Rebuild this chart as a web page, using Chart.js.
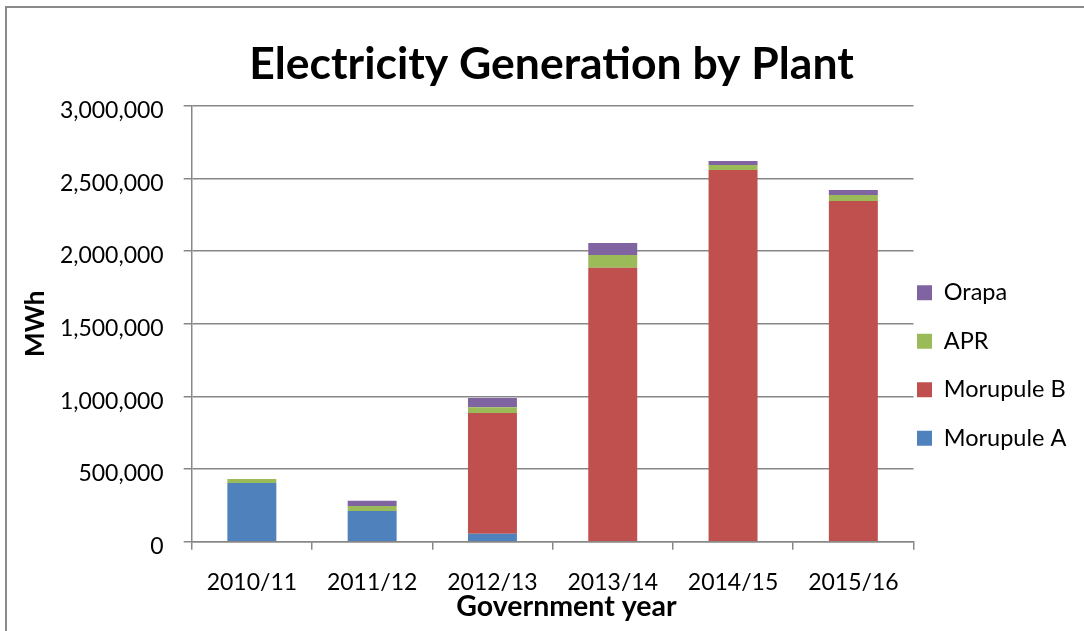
<!DOCTYPE html>
<html>
<head>
<meta charset="utf-8">
<title>Electricity Generation by Plant</title>
<script src="https://cdn.jsdelivr.net/npm/chart.js@4/dist/chart.umd.min.js"></script>
<style>
  html, body { margin: 0; padding: 0; background: #ffffff; overflow: hidden; }
  #wrap { position: relative; width: 1084px; height: 631px; }
  #frame {
    position: absolute; left: 5px; top: 6px; width: 1200px; height: 800px;
    border-left: 2px solid #8a8a8a; border-top: 2px solid #8a8a8a;
  }
  #chart { position: absolute; left: 0; top: 0; }
</style>
</head>
<body>
<div id="wrap">
  <div id="frame"></div>
  <canvas id="chart" width="1084" height="631"></canvas>
</div>
<script>
// Government years (x categories)
const categories = ['2010/11', '2011/12', '2012/13', '2013/14', '2014/15', '2015/16'];

// Generation per plant, MWh
const morupuleA = [404000, 211000, 55000, 0, 0, 0];
const morupuleB = [0, 0, 830000, 1885000, 2558000, 2344000];
const apr       = [27000, 35000, 40000, 88000, 34000, 41000];
const orapa     = [0, 35000, 64000, 82000, 28000, 35000];

// Value axis ticks
const yTicks = [0, 500000, 1000000, 1500000, 2000000, 2500000, 3000000];

const seriesNames  = ['Morupule A', 'Morupule B', 'APR', 'Orapa'];
const seriesColors = ['#4F81BD', '#C0504D', '#9BBB59', '#8064A2'];
const seriesData   = [morupuleA, morupuleB, apr, orapa];

const GRID = '#878787';
Chart.defaults.font.family = 'Lato, "Open Sans", sans-serif';
Chart.defaults.color = '#000000';

// Place the legend block beside the plot, just right of the last category
const legendPlacement = {
  id: 'legendPlacement',
  afterLayout(chart) {
    const lg = chart.legend;
    if (!lg) return;
    lg.left = 917 - lg.options.labels.padding;
    const h = lg.bottom - lg.top;
    lg.top = 256; lg.bottom = lg.top + h;
    lg.width = lg.right - lg.left;
  }
};

new Chart(document.getElementById('chart'), {
  type: 'bar',
  data: {
    labels: categories,
    datasets: seriesNames.map((name, i) => ({
      label: name,
      data: seriesData[i],
      backgroundColor: seriesColors[i],
      borderWidth: 0,
      barPercentage: 0.407,
      categoryPercentage: 1.0
    }))
  },
  options: {
    responsive: false,
    animation: false,
    devicePixelRatio: 1,
    layout: { padding: { left: 19, right: 0, top: 0, bottom: 0 } },
    plugins: {
      title: {
        display: true,
        text: 'Electricity Generation by Plant',
        color: '#000000',
        font: { size: 44.5, weight: 'bold', lineHeight: 1.2 },
        padding: { top: 37.6, bottom: 14.7 }
      },
      legend: {
        position: 'right',
        align: 'start',
        reverse: true,
        maxWidth: 170.5,
        labels: {
          color: '#000000',
          font: { size: 23.5 },
          boxWidth: 15,
          boxHeight: 15,
          padding: 25
        }
      },
      tooltip: { enabled: false }
    },
    scales: {
      x: {
        stacked: true,
        grid: {
          offset: true,
          drawOnChartArea: false,
          drawTicks: true,
          tickLength: 8,
          color: GRID,
          lineWidth: 1.5
        },
        border: { display: true, color: GRID, width: 1.5 },
        ticks: { color: '#000000', font: { size: 23 }, padding: 19 },
        title: {
          display: true,
          // leading spaces nudge the centred title slightly to the right
          text: '    Government year',
          color: '#000000',
          font: { size: 28.5, weight: 'bold', lineHeight: 1.2 },
          padding: { top: 0, bottom: 7.5 }
        },
        afterFit(scale) { scale.height = 89.3; }
      },
      y: {
        stacked: true,
        min: yTicks[0],
        max: yTicks[yTicks.length - 1],
        afterBuildTicks(scale) { scale.ticks = yTicks.map(v => ({ value: v })); },
        grid: {
          drawTicks: true,
          tickLength: 8,
          color: GRID,
          lineWidth: 1.5
        },
        border: { display: true, color: GRID, width: 1.5 },
        ticks: {
          color: '#000000',
          font: { size: 23 },
          padding: 20,
          labelOffset: 5,
          callback: v => Number(v).toLocaleString('en-US')
        },
        title: {
          display: true,
          text: 'MWh',
          color: '#000000',
          font: { size: 26, weight: 'bold', lineHeight: 1.2 },
          padding: { top: 1.4, bottom: 0 }
        },
        afterFit(scale) { scale.width = 172.7; }
      }
    }
  },
  plugins: [legendPlacement]
});
</script>
</body>
</html>
